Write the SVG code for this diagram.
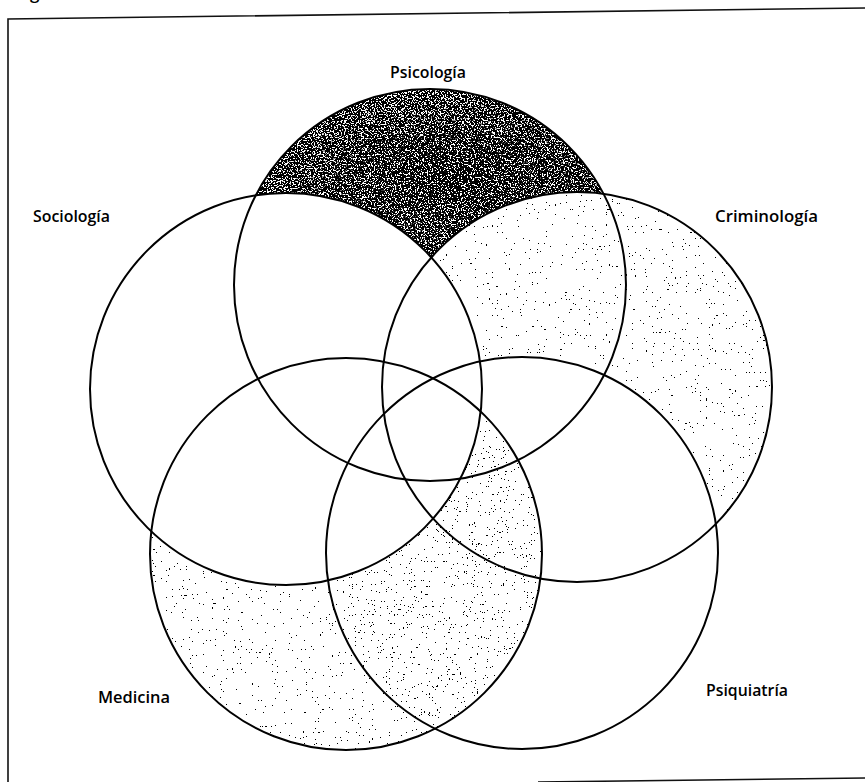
<svg xmlns="http://www.w3.org/2000/svg" width="865" height="782" viewBox="0 0 865 782">
<style>
.ring{fill:none;stroke:#000;stroke-width:2}
.lbl{font-family:"Open Sans","Noto Sans",sans-serif;font-size:17px;font-weight:600;fill:#000}
.frame{fill:none;stroke:#111;stroke-width:1.6}
</style>
<defs>
<filter id="nLight" filterUnits="userSpaceOnUse" x="0" y="0" width="865" height="782" color-interpolation-filters="sRGB">
<feTurbulence type="fractalNoise" baseFrequency="0.65" numOctaves="1" seed="4"/>
<feColorMatrix type="matrix" values="0 0 0 0 0 0 0 0 0 0 0 0 0 0 0 1 0 0 0 0"/>
<feComponentTransfer><feFuncA type="discrete" tableValues="1 1 1 1 1 1 1 1 1 1 1 0 0 0 0 0 0 0 0 0 0 0 0 0 0 0 0 0 0 0 0 0 0 0 0 0 0 0 0 0"/></feComponentTransfer>
</filter>
<filter id="nDense" filterUnits="userSpaceOnUse" x="0" y="0" width="865" height="782" color-interpolation-filters="sRGB">
<feTurbulence type="fractalNoise" baseFrequency="0.7" numOctaves="1" seed="11"/>
<feColorMatrix type="matrix" values="0 0 0 0 0 0 0 0 0 0 0 0 0 0 0 1 0 0 0 0"/>
<feComponentTransfer><feFuncA type="discrete" tableValues="1 1 1 1 1 1 1 1 1 1 1 0 0 0 0 0 0 0 0 0 0 0 0 0 0 0 0 0 0 0 0 0 0 0 0 0 0 0 0 0"/></feComponentTransfer>
</filter>
<filter id="nDark" filterUnits="userSpaceOnUse" x="0" y="0" width="865" height="782" color-interpolation-filters="sRGB">
<feTurbulence type="fractalNoise" baseFrequency="0.7" numOctaves="2" seed="7"/>
<feColorMatrix type="matrix" values="0 0 0 0 0 0 0 0 0 0 0 0 0 0 0 1 0 0 0 0"/>
<feComponentTransfer><feFuncA type="discrete" tableValues="1 1 1 1 1 1 1 1 1 1 1 0 0 0 0 0 0 0 0 0"/></feComponentTransfer>
</filter>
<filter id="nCore" filterUnits="userSpaceOnUse" x="0" y="0" width="865" height="782" color-interpolation-filters="sRGB">
<feTurbulence type="fractalNoise" baseFrequency="0.6" numOctaves="2" seed="19"/>
<feColorMatrix type="matrix" values="0 0 0 0 0 0 0 0 0 0 0 0 0 0 0 1 0 0 0 0"/>
<feComponentTransfer><feFuncA type="discrete" tableValues="1 1 1 1 1 1 1 1 1 0 0 0 0 0 0 0 0 0 0 0"/></feComponentTransfer>
</filter>
<radialGradient id="gCore" gradientUnits="userSpaceOnUse" cx="450" cy="180" r="150" gradientTransform="translate(450 180) scale(1.3 0.6) translate(-450 -180)">
<stop offset="0" stop-color="#fff"/><stop offset="0.5" stop-color="#aaa"/><stop offset="1" stop-color="#000"/>
</radialGradient>
<mask id="mDark" maskUnits="userSpaceOnUse" x="0" y="0" width="865" height="782">
<circle cx="430" cy="285" r="196" fill="#fff"/>
<circle cx="286" cy="389" r="196" fill="#000"/>
<circle cx="577" cy="387" r="195" fill="#000"/>
</mask>
<mask id="mCore" maskUnits="userSpaceOnUse" x="0" y="0" width="865" height="782">
<rect x="0" y="0" width="865" height="782" fill="url(#gCore)"/>
</mask>
<mask id="mLight" maskUnits="userSpaceOnUse" x="0" y="0" width="865" height="782">
<circle cx="577" cy="387" r="195" fill="#fff"/>
<circle cx="522" cy="553" r="196" fill="#000"/>
<circle cx="346" cy="554" r="196" fill="#fff"/>
<circle cx="286" cy="389" r="196" fill="#000"/>
</mask>
<mask id="mDense" maskUnits="userSpaceOnUse" x="0" y="0" width="865" height="782">
<circle cx="346" cy="554" r="196" fill="#fff"/>
<circle cx="286" cy="389" r="196" fill="#000"/>
</mask>
<clipPath id="cPsiq"><circle cx="522" cy="553" r="196"/></clipPath>
</defs>
<rect x="0" y="0" width="865" height="782" fill="#fff"/>
<g id="shading">
<rect x="0" y="0" width="865" height="782" filter="url(#nLight)" mask="url(#mLight)"/>
<g clip-path="url(#cPsiq)"><rect x="0" y="0" width="865" height="782" filter="url(#nDense)" mask="url(#mDense)"/></g>
<rect x="0" y="0" width="865" height="782" filter="url(#nDark)" mask="url(#mDark)"/>
<g mask="url(#mCore)"><rect x="0" y="0" width="865" height="782" filter="url(#nCore)" mask="url(#mDark)"/></g>
</g>
<g id="frame">
<path class="frame" d="M8,782 L8,19 L865,8"/>
<path class="frame" d="M538,782 L865,778"/>
<text class="lbl" x="30" y="-1">g</text>
</g>
<g id="psicologia">
<circle class="ring" cx="430" cy="285" r="196"/>
<text class="lbl" x="390" y="78" textLength="76" lengthAdjust="spacingAndGlyphs">Psicología</text>
</g>
<g id="sociologia">
<circle class="ring" cx="286" cy="389" r="196"/>
<text class="lbl" x="33" y="222" textLength="77" lengthAdjust="spacingAndGlyphs">Sociología</text>
</g>
<g id="criminologia">
<circle class="ring" cx="577" cy="387" r="195"/>
<text class="lbl" x="715" y="222" textLength="103" lengthAdjust="spacingAndGlyphs">Criminología</text>
</g>
<g id="medicina">
<circle class="ring" cx="346" cy="554" r="196"/>
<text class="lbl" x="98" y="703" textLength="72" lengthAdjust="spacingAndGlyphs">Medicina</text>
</g>
<g id="psiquiatria">
<circle class="ring" cx="522" cy="553" r="196"/>
<text class="lbl" x="706" y="696" textLength="82" lengthAdjust="spacingAndGlyphs">Psiquiatría</text>
</g>
</svg>
